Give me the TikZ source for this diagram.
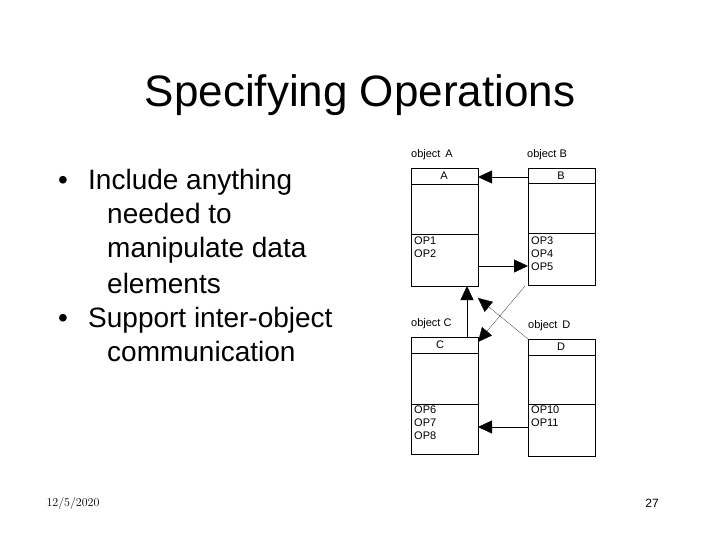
\documentclass[tikz,border=0pt]{standalone}
\usepackage{fontspec}
\setmainfont{Liberation Sans}
\usetikzlibrary{arrows.meta}

\begin{document}
\begin{tikzpicture}[x=1pt,y=-1pt,>={Triangle[length=14pt,width=13pt]},
  class node/.style={rectangle,draw,thin,minimum width=67pt,anchor=north west,inner sep=0pt},
  small text/.style={font=\fontsize{11}{13}\selectfont,inner sep=0pt},
  op text/.style={small text,anchor=north west,align=left},
  bullet text/.style={font=\fontsize{28}{34}\selectfont,anchor=base west,inner sep=0pt}]

  \useasboundingbox (0,0) rectangle (720,540);

  \node (title) at (360,95) {\fontsize{44}{48}\selectfont Specifying Operations};

  \node[bullet text] (b1) at (58,190) {\textbullet};
  \node[bullet text] (l1) at (88,190) {Include anything};
  \node[bullet text] (l2) at (107,224) {needed to};
  \node[bullet text] (l3) at (107,258) {manipulate data};
  \node[bullet text] (l4) at (107,293) {elements};
  \node[bullet text] (b2) at (58,327) {\textbullet};
  \node[bullet text] (l5) at (88,327) {Support inter-object};
  \node[bullet text] (l6) at (107,361) {communication};

  % classes
  \node[class node,minimum height=118pt] (A) at (411,168) {};
  \node[class node,minimum height=117pt] (B) at (528,168) {};
  \node[class node,minimum height=117pt] (C) at (411,337) {};
  \node[class node,minimum height=117pt] (D) at (528,339) {};

  \draw[thin] (411,184) -- (478,184) (411,234) -- (478,234);
  \draw[thin] (528,183) -- (595,183) (528,233) -- (595,233);
  \draw[thin] (411,353) -- (478,353) (411,404) -- (478,404);
  \draw[thin] (528,355) -- (595,355) (528,404) -- (595,404);

  \node[small text] (nA) at (444,176) {A};
  \node[small text] (nB) at (561,176) {B};
  \node[small text] (nC) at (440,345) {C};
  \node[small text] (nD) at (561,347) {D};

  \node[small text,anchor=west] (oA) at (411,155) {object\, A};
  \node[small text,anchor=west] (oB) at (527,155) {object B};
  \node[small text,anchor=west] (oC) at (411,324) {object C};
  \node[small text,anchor=west] (oD) at (528,326) {object\, D};

  \node[op text] (opA) at (414,237) {OP1\\OP2};
  \node[op text] (opB) at (531,237) {OP3\\OP4\\OP5};
  \node[op text] (opC) at (414,406) {OP6\\OP7\\OP8};
  \node[op text] (opD) at (531,406) {OP10\\OP11};

  % messages
  \coordinate (bA) at (528,177);  \coordinate (eA) at (478,177);
  \coordinate (aB) at (478,266);  \coordinate (eB) at (528,266);
  \coordinate (cA) at (467,337);  \coordinate (eC) at (467,286);
  \coordinate (dA) at (528,339);  \coordinate (eD) at (478,298);
  \coordinate (bC) at (525,286);  \coordinate (eE) at (478,342);
  \coordinate (dC) at (528,427);  \coordinate (eF) at (478,427);

  \draw[->] (bA) -- (eA);
  \draw[->] (aB) -- (eB);
  \draw[->] (cA) -- (eC);
  \draw[->,very thin] (dA) -- (eD);
  \draw[->,very thin] (bC) -- (eE);
  \draw[->] (dC) -- (eF);

  \node[font=\fontfamily{lmr}\fontsize{12}{14}\selectfont] (date) at (73,503) {12/5/2020};
  \node[font=\fontsize{12}{14}\selectfont] (page) at (652,503) {27};
\end{tikzpicture}
\end{document}
